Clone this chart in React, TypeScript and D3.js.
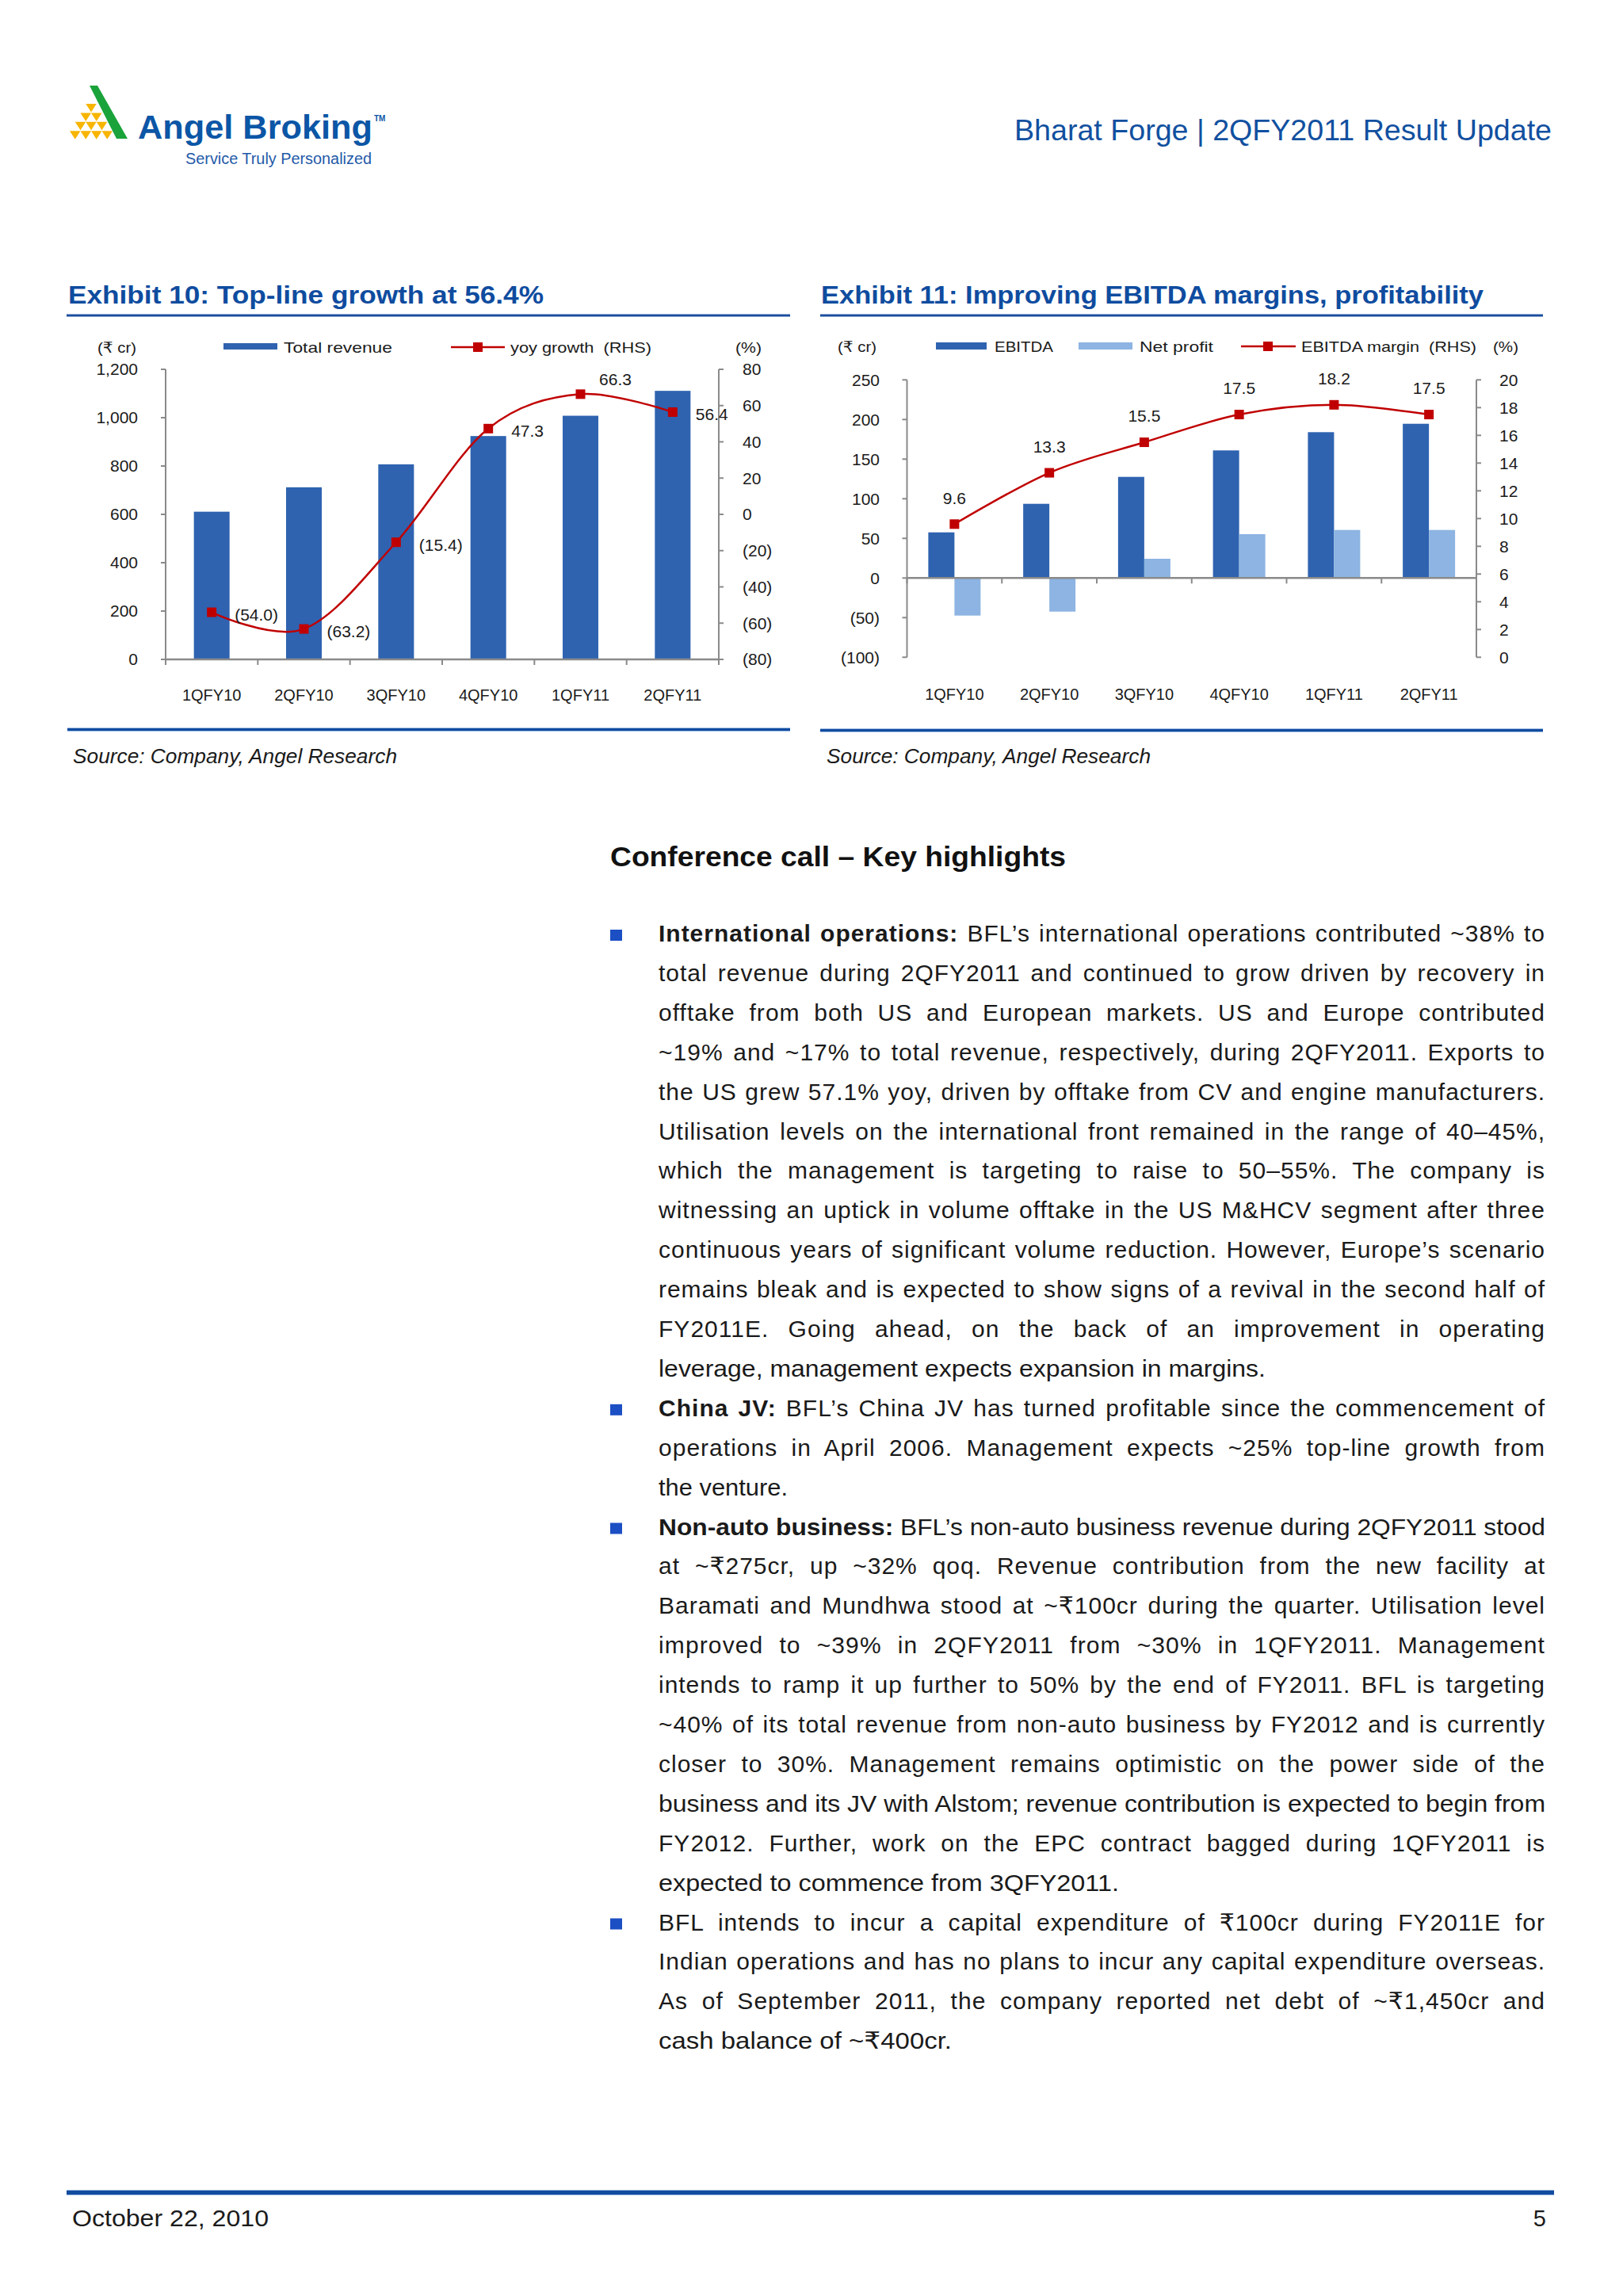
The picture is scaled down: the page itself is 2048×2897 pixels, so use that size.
import React, { useLayoutEffect, useRef } from "react";
import * as d3 from "d3";

// ---------- data ----------
const quarters = ["1QFY10", "2QFY10", "3QFY10", "4QFY10", "1QFY11", "2QFY11"];
const totalRevenue = [611, 712, 807, 924, 1008, 1111];
const yoyGrowth = [-54.0, -63.2, -15.4, 47.3, 66.3, 56.4];
const ebitda = [57.6, 93.6, 127.6, 161, 184, 194.6];
const netProfit = [-47.4, -42.4, 24.3, 55.3, 60.6, 60.6];
const ebitdaMargin = [9.6, 13.3, 15.5, 17.5, 18.2, 17.5];
const revenueTicks = [0, 200, 400, 600, 800, 1000, 1200];
const growthTicks = [-80, -60, -40, -20, 0, 20, 40, 60, 80];
const profitTicks = [-100, -50, 0, 50, 100, 150, 200, 250];
const marginTicks = [0, 2, 4, 6, 8, 10, 12, 14, 16, 18, 20];

type BodyLine = { bold?: string; text: string; justify: boolean; end: number; bullet?: boolean };
const bodyLines: BodyLine[] = [
  { bullet: true, bold: "International operations:", text: " BFL’s international operations contributed ~38% to", justify: true, end: 1950 },
  { text: "total revenue during 2QFY2011 and continued to grow driven by recovery in", justify: true, end: 1950 },
  { text: "offtake from both US and European markets. US and Europe contributed", justify: true, end: 1950 },
  { text: "~19% and ~17% to total revenue, respectively, during 2QFY2011. Exports to", justify: true, end: 1950 },
  { text: "the US grew 57.1% yoy, driven by offtake from CV and engine manufacturers.", justify: true, end: 1950 },
  { text: "Utilisation levels on the international front remained in the range of 40–45%,", justify: true, end: 1950 },
  { text: "which the management is targeting to raise to 50–55%. The company is", justify: true, end: 1950 },
  { text: "witnessing an uptick in volume offtake in the US M&HCV segment after three", justify: true, end: 1950 },
  { text: "continuous years of significant volume reduction. However, Europe’s scenario", justify: true, end: 1950 },
  { text: "remains bleak and is expected to show signs of a revival in the second half of", justify: true, end: 1950 },
  { text: "FY2011E. Going ahead, on the back of an improvement in operating", justify: true, end: 1950 },
  { text: "leverage, management expects expansion in margins.", justify: false, end: 1597 },
  { bullet: true, bold: "China JV:", text: " BFL’s China JV has turned profitable since the commencement of", justify: true, end: 1950 },
  { text: "operations in April 2006. Management expects ~25% top-line growth from", justify: true, end: 1950 },
  { text: "the venture.", justify: false, end: 994 },
  { bullet: true, bold: "Non-auto business:", text: " BFL’s non-auto business revenue during 2QFY2011 stood", justify: true, end: 1950 },
  { text: "at ~₹275cr, up ~32% qoq. Revenue contribution from the new facility at", justify: true, end: 1950 },
  { text: "Baramati and Mundhwa stood at ~₹100cr during the quarter. Utilisation level", justify: true, end: 1950 },
  { text: "improved to ~39% in 2QFY2011 from ~30% in 1QFY2011. Management", justify: true, end: 1950 },
  { text: "intends to ramp it up further to 50% by the end of FY2011. BFL is targeting", justify: true, end: 1950 },
  { text: "~40% of its total revenue from non-auto business by FY2012 and is currently", justify: true, end: 1950 },
  { text: "closer to 30%. Management remains optimistic on the power side of the", justify: true, end: 1950 },
  { text: "business and its JV with Alstom; revenue contribution is expected to begin from", justify: true, end: 1950 },
  { text: "FY2012. Further, work on the EPC contract bagged during 1QFY2011 is", justify: true, end: 1950 },
  { text: "expected to commence from 3QFY2011.", justify: false, end: 1412 },
  { bullet: true, text: "BFL intends to incur a capital expenditure of ₹100cr during FY2011E for", justify: true, end: 1950 },
  { text: "Indian operations and has no plans to incur any capital expenditure overseas.", justify: true, end: 1950 },
  { text: "As of September 2011, the company reported net debt of ~₹1,450cr and", justify: true, end: 1950 },
  { text: "cash balance of ~₹400cr.", justify: false, end: 1201 },
];

// ---------- styles ----------
const FONT = "'Liberation Sans', Arial, 'DejaVu Sans', sans-serif";
const TXT = "#1a1a1a";
const AXIS = "#8a8a8a";
const DARK_BAR = "#2f63b0";
const LIGHT_BAR = "#8db4e2";
const RED = "#c00000";
const TITLE_BLUE = "#0f4c9f";

const fmtComma = d3.format(",");
const paren0 = (v: number) => (v < 0 ? `(${Math.abs(v)})` : `${v}`);
const paren1 = (v: number) => (v < 0 ? `(${d3.format(".1f")(-v)})` : d3.format(".1f")(v));

function Marker({ x, y }: { x: number; y: number }) {
  return <rect x={x - 6} y={y - 6} width={12} height={12} fill={RED} />;
}

function RevenueChart() {
  const x = d3.scaleBand<string>().domain(quarters).range([209, 907]).paddingInner(0.613).paddingOuter(0.3065);
  const yL = d3.scaleLinear().domain([0, 1200]).range([832, 466]);
  const yR = d3.scaleLinear().domain([-80, 80]).range([832, 466]);
  const step = x.step();
  const [x0, x1] = x.range();
  const cx = (q: string) => (x(q) as number) + x.bandwidth() / 2;
  const pts: [number, number][] = quarters.map((q, i) => [cx(q), yR(yoyGrowth[i])]);
  const path = d3.line().curve(d3.curveCardinal.tension(0))(pts) || "";
  const maxIdx = d3.maxIndex(yoyGrowth);
  return (
    <g fontFamily={FONT} fill={TXT}>
      {/* legend */}
      <text x={123} y={438} dy="0.35em" fontSize={19} textLength={49} lengthAdjust="spacingAndGlyphs">(₹ cr)</text>
      <rect x={282} y={433} width={68} height={8} fill={DARK_BAR} />
      <text x={358} y={438} dy="0.35em" fontSize={19} textLength={137} lengthAdjust="spacingAndGlyphs">Total revenue</text>
      <line x1={569} x2={637} y1={438} y2={438} stroke={RED} strokeWidth={2.5} />
      <Marker x={603} y={438} />
      <text x={644} y={438} dy="0.35em" fontSize={19} textLength={178} lengthAdjust="spacingAndGlyphs" xmlSpace="preserve">yoy growth  (RHS)</text>
      <text x={928} y={438} dy="0.35em" fontSize={19} textLength={33} lengthAdjust="spacingAndGlyphs">(%)</text>

      {/* bars */}
      {quarters.map((q, i) => (
        <rect key={q} x={x(q)} y={yL(totalRevenue[i])} width={x.bandwidth()} height={yL(0) - yL(totalRevenue[i])} fill={DARK_BAR} />
      ))}

      {/* axes */}
      <line x1={x0} x2={x0} y1={yL(1200)} y2={yL(0)} stroke={AXIS} strokeWidth={2} />
      <line x1={x1} x2={x1} y1={yR(80)} y2={yR(-80)} stroke={AXIS} strokeWidth={2} />
      <line x1={x0} x2={x1} y1={yL(0)} y2={yL(0)} stroke={AXIS} strokeWidth={2.5} />
      {d3.range(quarters.length + 1).map((i) => (
        <line key={i} x1={x0 + i * step} x2={x0 + i * step} y1={yL(0)} y2={yL(0) + 7} stroke={AXIS} strokeWidth={2} />
      ))}
      {revenueTicks.map((t) => (
        <g key={t}>
          <line x1={x0 - 6} x2={x0} y1={yL(t)} y2={yL(t)} stroke={AXIS} strokeWidth={2} />
          <text x={174} y={yL(t)} dy="0.35em" textAnchor="end" fontSize={21}>{fmtComma(t)}</text>
        </g>
      ))}
      {growthTicks.map((t) => (
        <g key={t}>
          <line x1={x1} x2={x1 + 6} y1={yR(t)} y2={yR(t)} stroke={AXIS} strokeWidth={2} />
          <text x={937} y={yR(t)} dy="0.35em" fontSize={21}>{paren0(t)}</text>
        </g>
      ))}
      {quarters.map((q) => (
        <text key={q} x={cx(q)} y={884} textAnchor="middle" fontSize={20}>{q}</text>
      ))}

      {/* line */}
      <path d={path} fill="none" stroke={RED} strokeWidth={2.5} />
      {pts.map(([px, py], i) => (
        <Marker key={i} x={px} y={py} />
      ))}
      {pts.map(([px, py], i) =>
        i === maxIdx ? (
          <text key={i} x={px + 44} y={py - 19} dy="0.35em" textAnchor="middle" fontSize={21}>{paren1(yoyGrowth[i])}</text>
        ) : (
          <text key={i} x={px + 29} y={py + 3} dy="0.35em" fontSize={21}>{paren1(yoyGrowth[i])}</text>
        )
      )}
    </g>
  );
}

function EbitdaChart() {
  const x = d3.scaleBand<string>().domain(quarters).range([1144.5, 1863]).paddingInner(0.449).paddingOuter(0.2245);
  const sub = d3.scaleBand<string>().domain(["ebitda", "np"]).range([0, x.bandwidth()]);
  const yL = d3.scaleLinear().domain([-100, 250]).range([829.3, 479.3]);
  const yR = d3.scaleLinear().domain([0, 20]).range([829.3, 479.3]);
  const step = x.step();
  const [x0, x1] = x.range();
  const cx = (q: string) => (x(q) as number) + x.bandwidth() / 2;
  const pts: [number, number][] = quarters.map((q, i) => [cx(q), yR(ebitdaMargin[i])]);
  const path = d3.line().curve(d3.curveCardinal.tension(0))(pts) || "";
  const barY = (v: number) => Math.min(yL(v), yL(0));
  const barH = (v: number) => Math.abs(yL(v) - yL(0));
  return (
    <g fontFamily={FONT} fill={TXT}>
      {/* legend */}
      <text x={1057} y={437} dy="0.35em" fontSize={19} textLength={49} lengthAdjust="spacingAndGlyphs">(₹ cr)</text>
      <rect x={1181} y={432} width={64} height={9} fill={DARK_BAR} />
      <text x={1255} y={437} dy="0.35em" fontSize={19} textLength={74} lengthAdjust="spacingAndGlyphs">EBITDA</text>
      <rect x={1361} y={432} width={68} height={9} fill={LIGHT_BAR} />
      <text x={1438} y={437} dy="0.35em" fontSize={19} textLength={93} lengthAdjust="spacingAndGlyphs">Net profit</text>
      <line x1={1566} x2={1635} y1={437} y2={437} stroke={RED} strokeWidth={2.5} />
      <Marker x={1600} y={437} />
      <text x={1642} y={437} dy="0.35em" fontSize={19} textLength={221} lengthAdjust="spacingAndGlyphs" xmlSpace="preserve">EBITDA margin  (RHS)</text>
      <text x={1884} y={437} dy="0.35em" fontSize={19} textLength={32} lengthAdjust="spacingAndGlyphs">(%)</text>

      {/* bars */}
      {quarters.map((q, i) => (
        <g key={q}>
          <rect x={(x(q) as number) + (sub("ebitda") as number)} y={barY(ebitda[i])} width={sub.bandwidth()} height={barH(ebitda[i])} fill={DARK_BAR} />
          <rect x={(x(q) as number) + (sub("np") as number)} y={barY(netProfit[i])} width={sub.bandwidth()} height={barH(netProfit[i])} fill={LIGHT_BAR} />
        </g>
      ))}

      {/* axes */}
      <line x1={x0} x2={x0} y1={yL(250)} y2={yL(-100)} stroke={AXIS} strokeWidth={2} />
      <line x1={x1} x2={x1} y1={yR(20)} y2={yR(0)} stroke={AXIS} strokeWidth={2} />
      <line x1={x0} x2={x1} y1={yL(0)} y2={yL(0)} stroke={AXIS} strokeWidth={2.5} />
      {d3.range(quarters.length + 1).map((i) => (
        <line key={i} x1={x0 + i * step} x2={x0 + i * step} y1={yL(0)} y2={yL(0) + 7} stroke={AXIS} strokeWidth={2} />
      ))}
      {profitTicks.map((t) => (
        <g key={t}>
          <line x1={x0 - 6} x2={x0} y1={yL(t)} y2={yL(t)} stroke={AXIS} strokeWidth={2} />
          <text x={1110} y={yL(t)} dy="0.35em" textAnchor="end" fontSize={21}>{paren0(t)}</text>
        </g>
      ))}
      {marginTicks.map((t) => (
        <g key={t}>
          <line x1={x1} x2={x1 + 6} y1={yR(t)} y2={yR(t)} stroke={AXIS} strokeWidth={2} />
          <text x={1892} y={yR(t)} dy="0.35em" fontSize={21}>{t}</text>
        </g>
      ))}
      {quarters.map((q) => (
        <text key={q} x={cx(q)} y={883} textAnchor="middle" fontSize={20}>{q}</text>
      ))}

      {/* line */}
      <path d={path} fill="none" stroke={RED} strokeWidth={2.5} />
      {pts.map(([px, py], i) => (
        <Marker key={i} x={px} y={py} />
      ))}
      {pts.map(([px, py], i) => (
        <text key={i} x={px} y={py - 33} dy="0.35em" textAnchor="middle" fontSize={21}>{paren1(ebitdaMargin[i])}</text>
      ))}
    </g>
  );
}

function Logo() {
  const rows = [0, 1, 2, 3];
  const w = 13.5;
  const h = 10.5;
  return (
    <g>
      {rows.map((r) =>
        d3.range(r + 1).map((k) => {
          const left = 88 + (3 - r) * (w / 2) + k * w;
          const top = 131 + r * 11.4;
          return (
            <path key={`${r}-${k}`} d={`M${left},${top}L${left + w},${top}L${left + w / 2},${top + h}Z`} fill="#f7b500" />
          );
        })
      )}
      <path d="M113,108L123,108L161,175L147,175Z" fill="#1aa33a" />
      <text x={174} y={175} fontFamily={FONT} fontWeight="bold" fontSize={42} fill="#0b56a6" textLength={296} lengthAdjust="spacingAndGlyphs">Angel Broking</text>
      <text x={472} y={153} fontFamily={FONT} fontWeight="bold" fontSize={10} fill="#0b56a6">TM</text>
      <text x={234} y={207} fontFamily={FONT} fontSize={20} fill="#1f5aa8" textLength={235} lengthAdjust="spacingAndGlyphs">Service Truly Personalized</text>
    </g>
  );
}

function Rule({ x1, x2, y, w }: { x1: number; x2: number; y: number; w: number }) {
  return (
    <g>
      <line x1={x1} x2={x2} y1={y} y2={y} stroke="#9dbbe3" strokeWidth={w + 2} />
      <line x1={x1} x2={x2} y1={y} y2={y} stroke="#114c9e" strokeWidth={w} />
    </g>
  );
}

function Body() {
  const ref = useRef<SVGGElement>(null);
  useLayoutEffect(() => {
    const g = ref.current;
    if (!g) return;
    const els = Array.from(g.querySelectorAll("text[data-target]")) as SVGTextElement[];
    els.forEach((el) => {
      el.removeAttribute("textLength");
      el.style.letterSpacing = "0px";
      el.style.wordSpacing = "0px";
    });
    const info = els.map((el) => ({
      el,
      target: +(el.getAttribute("data-target") || 0),
      justify: el.getAttribute("data-justify") === "1",
      natural: el.getComputedTextLength(),
      text: el.textContent || "",
    }));
    // estimate how much wider the reference face is, from the unjustified (natural) lines
    const free = info.filter((d) => !d.justify);
    const k = d3.sum(free, (d) => d.target) / Math.max(1, d3.sum(free, (d) => d.natural));
    info.forEach((d) => {
      const chars = d.text.length;
      const spaces = (d.text.match(/ /g) || []).length;
      if (!d.justify) {
        d.el.setAttribute("textLength", String(d.target));
        d.el.setAttribute("lengthAdjust", "spacingAndGlyphs");
        return;
      }
      const ls = Math.max(0, (d.natural * (k - 1)) / chars);
      d.el.style.letterSpacing = `${ls}px`;
      const w2 = d.el.getComputedTextLength();
      if (w2 < d.target && spaces > 0) {
        d.el.style.wordSpacing = `${(d.target - w2) / spaces}px`;
      } else {
        d.el.style.letterSpacing = "0px";
        d.el.setAttribute("textLength", String(d.target));
        d.el.setAttribute("lengthAdjust", "spacingAndGlyphs");
      }
    });
  }, []);
  const left = 831;
  return (
    <g ref={ref} fontFamily={FONT} fill={TXT} fontSize={30}>
      {bodyLines.map((ln, i) => {
        const base = 1188 + i * 49.9;
        return (
          <g key={i}>
            {ln.bullet && <rect x={770} y={base - 15} width={15} height={14} fill="#1c4fc4" />}
            <text x={left} y={base} data-target={ln.end - left} data-justify={ln.justify ? "1" : "0"} xmlSpace="preserve">
              {ln.bold && <tspan fontWeight="bold">{ln.bold}</tspan>}
              <tspan>{ln.text}</tspan>
            </text>
          </g>
        );
      })}
    </g>
  );
}

export default function App() {
  return (
    <svg width={2048} height={2897} viewBox="0 0 2048 2897" style={{ position: "absolute", left: 0, top: 0, background: "#fff" }}>
      <rect x={0} y={0} width={2048} height={2897} fill="#fff" />
      <Logo />
      <text x={1280} y={177} fontFamily={FONT} fontSize={36} fill="#1150a0" textLength={678} lengthAdjust="spacingAndGlyphs">Bharat Forge | 2QFY2011 Result Update</text>

      {/* chart titles */}
      <text x={86} y={383} fontFamily={FONT} fontWeight="bold" fontSize={32} fill={TITLE_BLUE} textLength={600} lengthAdjust="spacingAndGlyphs">Exhibit 10: Top-line growth at 56.4%</text>
      <line x1={84} x2={997} y1={398} y2={398} stroke="#1a4f9f" strokeWidth={3} />
      <text x={1036} y={383} fontFamily={FONT} fontWeight="bold" fontSize={32} fill={TITLE_BLUE} textLength={836} lengthAdjust="spacingAndGlyphs">Exhibit 11: Improving EBITDA margins, profitability</text>
      <line x1={1035} x2={1947} y1={398} y2={398} stroke="#1a4f9f" strokeWidth={3} />

      <RevenueChart />
      <EbitdaChart />

      <Rule x1={85} x2={997} y={920.5} w={3} />
      <Rule x1={1035} x2={1947} y={921.5} w={3} />
      <text x={92} y={963} fontFamily={FONT} fontStyle="italic" fontSize={26} fill={TXT} textLength={409} lengthAdjust="spacingAndGlyphs">Source: Company, Angel Research</text>
      <text x={1043} y={963} fontFamily={FONT} fontStyle="italic" fontSize={26} fill={TXT} textLength={409} lengthAdjust="spacingAndGlyphs">Source: Company, Angel Research</text>

      {/* section */}
      <text x={770} y={1093} fontFamily={FONT} fontWeight="bold" fontSize={35} fill="#111" textLength={575} lengthAdjust="spacingAndGlyphs">Conference call – Key highlights</text>
      <Body />

      {/* footer */}
      <Rule x1={84} x2={1961} y={2766.5} w={5} />
      <text x={91} y={2809} fontFamily={FONT} fontSize={29} fill={TXT} textLength={248} lengthAdjust="spacingAndGlyphs">October 22, 2010</text>
      <text x={1951} y={2809} fontFamily={FONT} fontSize={29} fill={TXT} textAnchor="end">5</text>
    </svg>
  );
}
